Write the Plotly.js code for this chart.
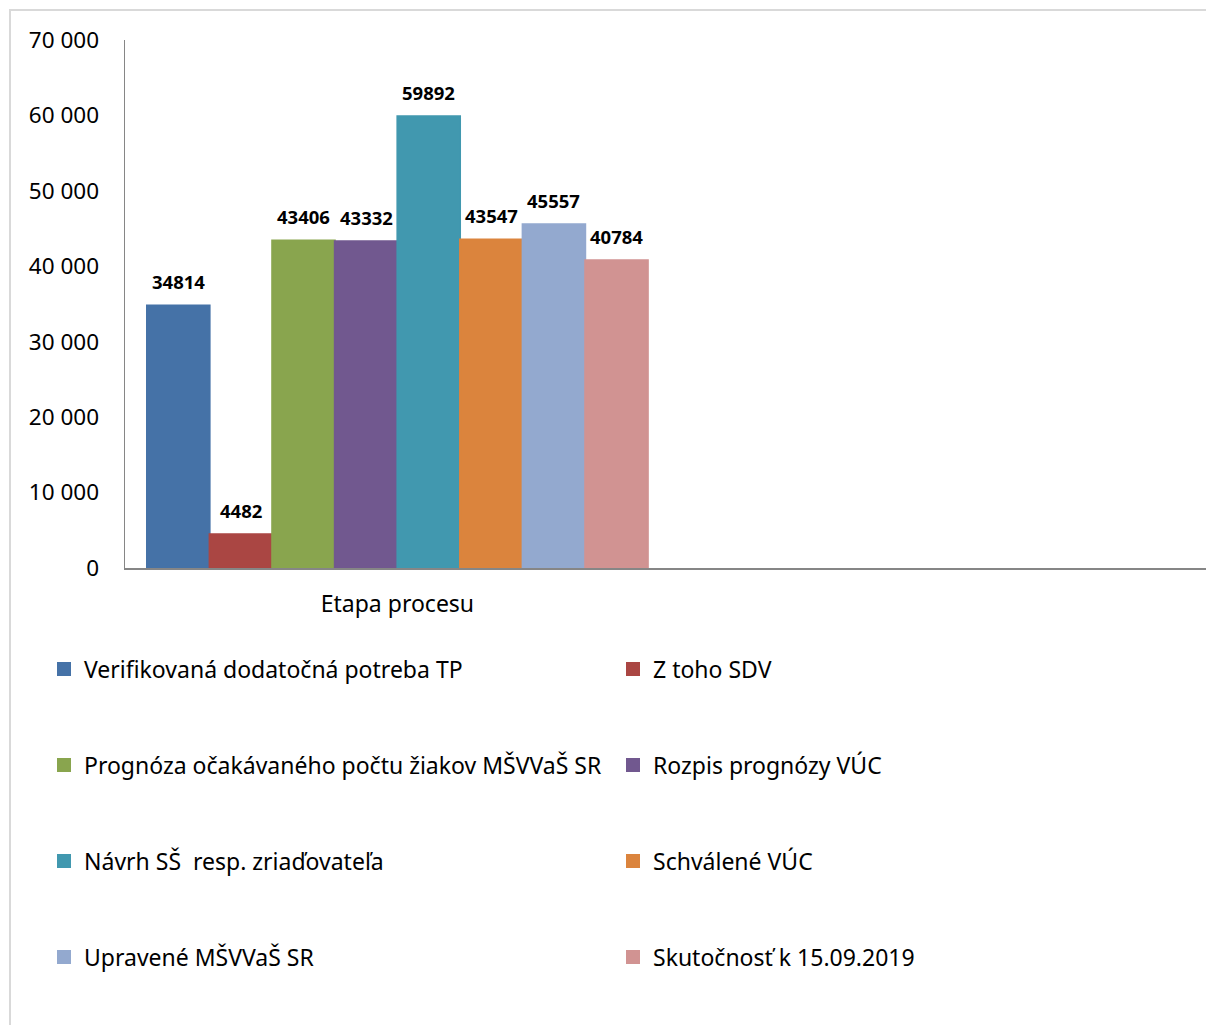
<!DOCTYPE html>
<html>
<head>
<meta charset="utf-8">
<script src="https://cdn.plot.ly/plotly-3.0.1.min.js"></script>
<style>
  html, body { margin: 0; padding: 0; background: #fff; }
  #wrap { position: relative; width: 1206px; height: 1025px; overflow: hidden; }
  #chart { position: absolute; left: 0; top: 0; width: 1206px; height: 1025px; }
  #frame { position: absolute; left: 9px; top: 9px; width: 1400px; height: 1200px;
           border-top: 2px solid #d9d9d9; border-left: 2px solid #d9d9d9; pointer-events: none; }
</style>
</head>
<body>
<div id="wrap"><div id="chart"></div><div id="frame"></div></div>
<script>
// ---- data ----
const category = 'Etapa procesu';
const seriesNames = [
  'Verifikovaná dodatočná potreba TP',
  'Z toho SDV',
  'Prognóza očakávaného počtu žiakov MŠVVaŠ SR',
  'Rozpis prognózy VÚC',
  'Návrh SŠ  resp. zriaďovateľa',
  'Schválené VÚC',
  'Upravené MŠVVaŠ SR',
  'Skutočnosť k 15.09.2019'
];
const seriesValues = [34814, 4482, 43406, 43332, 59892, 43547, 45557, 40784];
const seriesColors = ['#4572A7', '#AA4643', '#89A54E', '#71588F', '#4198AF', '#DB843D', '#93A9CF', '#D19392'];
const yTicks = [0, 10000, 20000, 30000, 40000, 50000, 60000, 70000];

// ---- build ----
const FONT = 'Noto Sans, Open Sans, sans-serif';
const bargap = 0.0734;
const n = seriesNames.length;
const legendIds = ['legend', 'legend2', 'legend3', 'legend4'];

const traces = seriesNames.map((name, i) => ({
  type: 'bar',
  name: name,
  x: [category],
  y: [seriesValues[i]],
  marker: { color: seriesColors[i], line: { width: 2, color: seriesColors[i] } },
  legend: legendIds[Math.floor(i / 2)],
  hoverinfo: 'name+y'
}));

const groupW = 1 - bargap;
const annotations = seriesValues.map((v, i) => ({
  x: -groupW / 2 + (i + 0.5) * groupW / n,
  y: v,
  xref: 'x', yref: 'y',
  text: String(v),
  showarrow: false,
  yanchor: 'middle',
  yshift: 24,
  font: { family: FONT, size: 18.5, color: '#000', weight: 'bold' }
}));

const rowY = [669, 765, 861, 957];
const plotTop = 40, plotBottom = 568, plotLeft = 125, plotRight = 1206;
const legendCommon = {
  orientation: 'h',
  xanchor: 'left',
  yanchor: 'middle',
  font: { family: FONT, size: 23, color: '#000' },
  entrywidth: 524,
  entrywidthmode: 'pixels',
  bgcolor: 'rgba(0,0,0,0)',
  borderwidth: 0,
  traceorder: 'normal'
};

const xShift = 0.004;
const layout = {
  width: 1206,
  height: 1025,
  margin: { l: plotLeft, r: 1206 - plotRight, t: plotTop, b: 1025 - plotBottom, pad: 0 },
  paper_bgcolor: '#fff',
  plot_bgcolor: '#fff',
  separators: ', ',
  barmode: 'group',
  bargap: bargap,
  bargroupgap: 0,
  font: { family: FONT, color: '#000' },
  xaxis: {
    type: 'category',
    categoryorder: 'array',
    categoryarray: [category, ' '],
    range: [-0.5 - xShift, 1.5 - xShift],
    showline: true,
    linecolor: '#868686',
    linewidth: 1.5,
    showgrid: false,
    zeroline: false,
    ticks: '',
    ticklabelstandoff: 15,
    tickfont: { family: FONT, size: 23, color: '#000' },
    fixedrange: true
  },
  yaxis: {
    range: [0, 70000],
    tickvals: yTicks,
    tickformat: ',d',
    showline: true,
    linecolor: '#868686',
    linewidth: 1.5,
    showgrid: false,
    zeroline: false,
    ticks: '',
    ticklabelstandoff: 20,
    tickfont: { family: FONT, size: 22.5, color: '#000' },
    fixedrange: true
  },
  annotations: annotations,
  showlegend: true
};

legendIds.forEach((id, r) => {
  layout[id] = Object.assign({}, legendCommon, {
    x: (44 - plotLeft) / (plotRight - plotLeft),
    y: (plotBottom - rowY[r]) / (plotBottom - plotTop)
  });
});

Plotly.newPlot('chart', traces, layout, { displayModeBar: false, staticPlot: true });
</script>
</body>
</html>
